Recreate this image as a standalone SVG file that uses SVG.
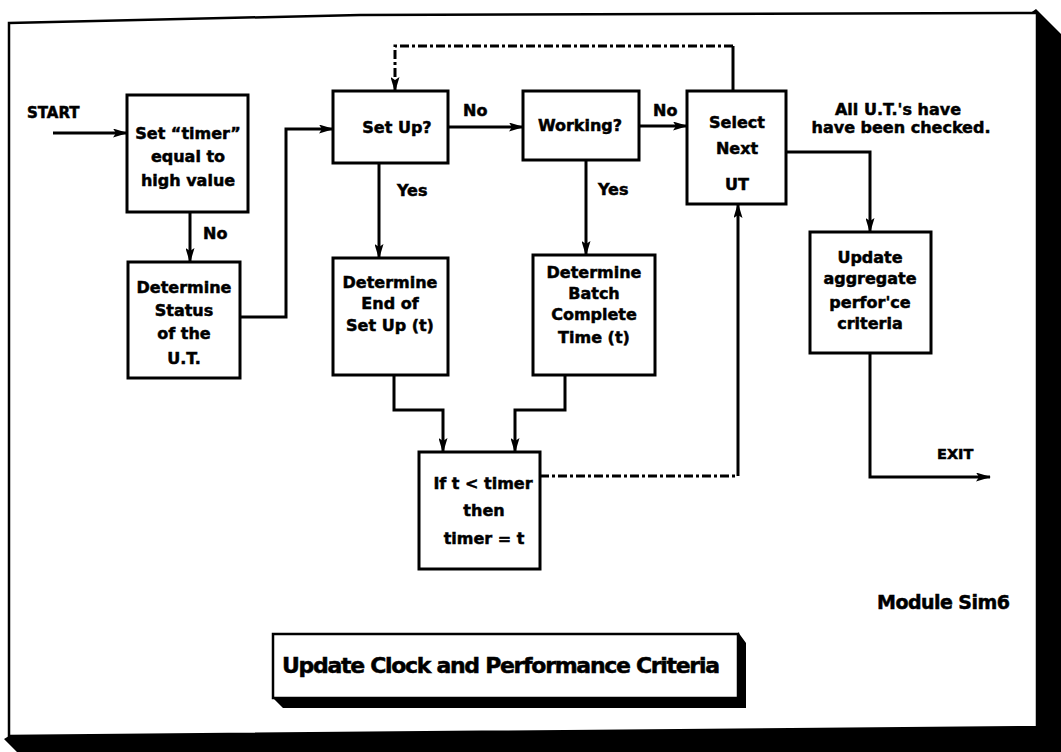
<svg xmlns="http://www.w3.org/2000/svg" width="1061" height="752" viewBox="0 0 1061 752">
  <style>
    .box { fill: #fff; stroke: #000; stroke-width: 3; }
    .txt { font-family: "DejaVu Sans", "Liberation Sans", sans-serif; font-weight: bold; font-size: 16px; fill: #000; stroke: #000; stroke-width: 0.5; }
    .c { text-anchor: middle; }
    .line { fill: none; stroke: #000; stroke-width: 3; stroke-linejoin: miter; }
    .dash { fill: none; stroke: #000; stroke-width: 3; stroke-dasharray: 9 3 3 3; }
    .arr { marker-end: url(#head); }
  </style>
  <defs>
    <marker id="head" markerUnits="userSpaceOnUse" markerWidth="15" markerHeight="9" refX="14" refY="4.5" orient="auto">
      <path d="M0,0 L15,4.5 L0,9 L3,4.5 z" fill="#000"/>
    </marker>
  </defs>

  <rect width="1061" height="752" fill="#fff"/>

  <!-- page frame with heavy drop shadow -->
  <g id="frame">
    <polygon points="1036,9 1061,34 1061,752 17,752 4,739 9,736" fill="#000"/>
    <polygon points="9,23 360,15 1037,13 1037,727 9,736" fill="#fff" stroke="#000" stroke-width="2.5"/>
  </g>

  <!-- connectors -->
  <g id="connectors">
    <path class="line arr" d="M53,133 H127"/>
    <path class="line arr" d="M190,212 V262"/>
    <path class="line arr" d="M240,317 H286 V129 H333"/>
    <path class="line arr" d="M448,127 H523"/>
    <path class="line arr" d="M639,126 H687"/>
    <path class="line arr" d="M379,163 V258"/>
    <path class="line arr" d="M586,160 V255"/>
    <path class="line arr" d="M394,375 V410 H443 V452"/>
    <path class="line arr" d="M565,375 V410 H515 V452"/>
    <path class="dash" d="M540,476 H738"/>
    <path class="line arr" d="M738,476 V204"/>
    <path class="line" d="M733,91 V46"/>
    <path class="dash arr" d="M733,46 H395 V91"/>
    <path class="line arr" d="M786,152 H870 V232"/>
    <path class="line arr" d="M870,353 V477 H990"/>
  </g>

  <!-- connector labels -->
  <g id="labels">
    <text class="txt" x="27" y="118" style="font-size:15px">START</text>
    <text class="txt" x="203" y="239">No</text>
    <text class="txt" x="463" y="116">No</text>
    <text class="txt" x="653" y="116">No</text>
    <text class="txt" x="397" y="196">Yes</text>
    <text class="txt" x="598" y="195">Yes</text>
    <text class="txt c" x="898" y="115">All U.T.'s have</text>
    <text class="txt c" x="901" y="133">have been checked.</text>
    <text class="txt" x="937" y="459" style="font-size:14.5px">EXIT</text>
    <text class="txt" x="877" y="609" style="font-size:19px" textLength="133" lengthAdjust="spacing">Module Sim6</text>
  </g>

  <g id="set-timer">
    <rect class="box" x="127" y="95" width="121" height="117"/>
    <text class="txt c" x="188" y="139">Set “timer”</text>
    <text class="txt c" x="188" y="162">equal to</text>
    <text class="txt c" x="188" y="186">high value</text>
  </g>

  <g id="determine-status">
    <rect class="box" x="128" y="262" width="112" height="116"/>
    <text class="txt c" x="184" y="293">Determine</text>
    <text class="txt c" x="184" y="316">Status</text>
    <text class="txt c" x="184" y="339">of the</text>
    <text class="txt c" x="184" y="364">U.T.</text>
  </g>

  <g id="set-up">
    <rect class="box" x="333" y="91" width="115" height="72"/>
    <text class="txt c" x="397" y="133">Set Up?</text>
  </g>

  <g id="working">
    <rect class="box" x="523" y="91" width="116" height="69"/>
    <text class="txt c" x="580" y="131">Working?</text>
  </g>

  <g id="select-next">
    <rect class="box" x="687" y="91" width="99" height="113"/>
    <text class="txt c" x="737" y="128">Select</text>
    <text class="txt c" x="737" y="154">Next</text>
    <text class="txt c" x="737" y="190">UT</text>
  </g>

  <g id="end-of-setup">
    <rect class="box" x="333" y="258" width="115" height="117"/>
    <text class="txt c" x="390" y="288">Determine</text>
    <text class="txt c" x="390" y="309">End of</text>
    <text class="txt c" x="390" y="331">Set Up (t)</text>
  </g>

  <g id="batch-complete">
    <rect class="box" x="533" y="255" width="122" height="120"/>
    <text class="txt c" x="594" y="278">Determine</text>
    <text class="txt c" x="594" y="299">Batch</text>
    <text class="txt c" x="594" y="320">Complete</text>
    <text class="txt c" x="594" y="343">Time (t)</text>
  </g>

  <g id="update-aggregate">
    <rect class="box" x="810" y="232" width="121" height="121"/>
    <text class="txt c" x="870" y="263">Update</text>
    <text class="txt c" x="870" y="284">aggregate</text>
    <text class="txt c" x="870" y="308">perfor'ce</text>
    <text class="txt c" x="870" y="329">criteria</text>
  </g>

  <g id="if-timer">
    <rect class="box" x="419" y="452" width="121" height="117"/>
    <text class="txt c" x="483" y="489">If t &lt; timer</text>
    <text class="txt c" x="484" y="516">then</text>
    <text class="txt c" x="484" y="544">timer = t</text>
  </g>

  <!-- title plate -->
  <g id="title">
    <polygon points="738,632 746,643 746,708 283,708 273,698 738,698" fill="#000"/>
    <rect x="273" y="634" width="465" height="64" fill="#fff" stroke="#000" stroke-width="2.5"/>
    <text class="txt" x="282" y="673" style="font-size:22px" textLength="438" lengthAdjust="spacing">Update Clock and Performance Criteria</text>
  </g>
</svg>
